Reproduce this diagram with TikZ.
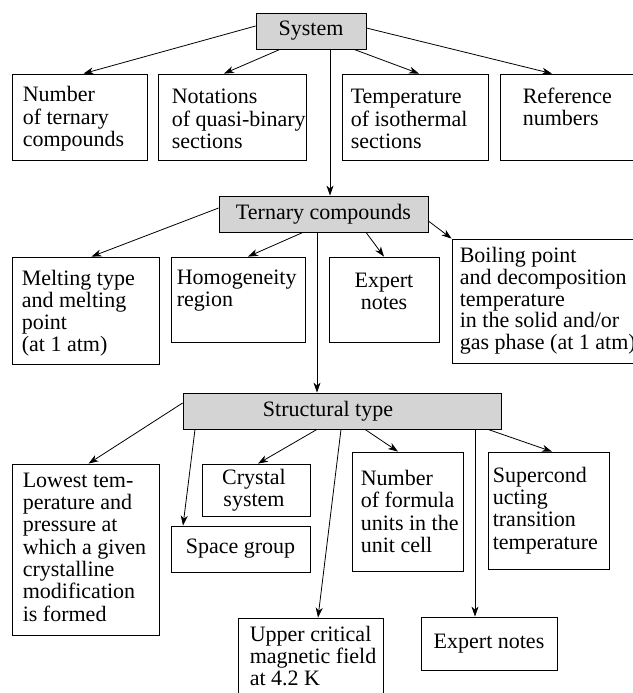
\documentclass[tikz,border=0pt]{standalone}
\usepackage{fontspec}
\setmainfont{Liberation Serif}
\usetikzlibrary{arrows.meta}
\definecolor{headgray}{RGB}{212,212,212}

\begin{document}
\begin{tikzpicture}[x=1pt, y=-1pt,
    box/.style={draw, line width=0.8pt, inner sep=0pt},
    head/.style={box, fill=headgray, minimum height=36pt},
    txt/.style={inner sep=0pt, align=left, font=\fontsize{22}{22.3}\selectfont},
    arr/.style={-{Stealth[length=10pt, width=7pt, inset=3pt]}, line width=0.8pt}
]
\useasboundingbox (0,0) rectangle (632,693);

% level 0
\node[head, minimum width=110pt] (sys) at (311,31) {};
\node[txt] (syst) at (sys) {System};

% level 1
\node[box, minimum width=135pt, minimum height=86pt] (b1) at (79.5,117) {};
\node[box, minimum width=148pt, minimum height=86pt] (b2) at (232,117) {};
\node[box, minimum width=146pt, minimum height=86pt] (b3) at (415,117) {};
\node[box, minimum width=140pt, minimum height=86pt] (b4) at (570,117) {};
\node[txt, anchor=west] (b1t) at ([shift={(11pt,-2pt)}]b1.west) {Number\\of ternary\\compounds};
\node[txt, anchor=west] (b2t) at ([shift={(14pt,-2pt)}]b2.west) {Notations\\of quasi-binary\\sections};
\node[txt, anchor=west] (b3t) at ([shift={(9pt,-2pt)}]b3.west) {Temperature\\of isothermal\\sections};
\node[txt, anchor=north west] (b4t) at ([shift={(23pt,-14pt)}]b4.north west) {Reference\\numbers};

\draw[arr] ([yshift=5pt]sys.west) -- ([xshift=4pt]b1.north);
\draw[arr] ([xshift=-31pt]sys.south) -- ([xshift=-8pt]b2.north);
\draw[arr] ([xshift=43pt]sys.south) -- ([xshift=4pt]b3.north);
\draw[arr] ([yshift=3pt]sys.east) -- ([xshift=-18pt]b4.north);

% level 0 -> ternary compounds
\node[head, minimum width=209pt] (ter) at (323.5,214) {};
\node[txt] (tert) at (ter) {Ternary compounds};
\draw[arr] ([xshift=19pt]sys.south) -- ([xshift=19pt]sys.south |- ter.north);

% level 2
\node[box, minimum width=147pt, minimum height=107pt] (melt) at (85.5,310.5) {};
\node[box, minimum width=134pt, minimum height=85pt] (homog) at (238,299.5) {};
\node[box, minimum width=110pt, minimum height=85pt] (exp1) at (384,299.5) {};
\node[box, minimum width=188pt, minimum height=124pt] (boil) at (546,301) {};
\node[txt, anchor=north west] (meltt) at ([shift={(10pt,-13pt)}]melt.north west) {Melting type\\and melting\\point\\(at 1 atm)};
\node[txt, anchor=north west] (homogt) at ([shift={(6pt,-13pt)}]homog.north west) {Homogeneity\\region};
\node[txt, align=center, anchor=north] (exp1t) at ([yshift=-16pt]exp1.north) {Expert\\notes};
\node[txt, anchor=west, font=\fontsize{22}{21.7}\selectfont] (boilt) at ([xshift=8pt]boil.west) {Boiling point\\and decomposition\\temperature\\in the solid and/or\\gas phase (at 1 atm)};

\draw[arr] ([yshift=6pt]ter.west) -- ([xshift=6pt]melt.north);
\draw[arr] ([xshift=-20.5pt]ter.south) -- ([xshift=10pt]homog.north);
\draw[arr] ([xshift=42.5pt]ter.south) -- (exp1.north);
\draw[arr] ([yshift=-7pt]ter.east) -- (boil.north west);

% ternary compounds -> structural type
\node[head, minimum width=318pt] (str) at (342,411) {};
\node[txt] (strt) at (328,411) {Structural type};
\draw[arr] ([xshift=-6.5pt]ter.south) -- ([xshift=-6.5pt]ter.south |- str.north);

% level 3
\node[box, minimum width=147pt, minimum height=171pt] (lowest) at (85.5,549.5) {};
\node[box, minimum width=108pt, minimum height=52pt] (cryst) at (256,490) {};
\node[box, minimum width=139pt, minimum height=46pt] (space) at (240.5,549) {};
\node[box, minimum width=111pt, minimum height=119pt] (num) at (407.5,511.5) {};
\node[box, minimum width=121pt, minimum height=117pt] (sup) at (548.5,510.5) {};
\node[box, minimum width=145pt, minimum height=88pt] (upper) at (310.5,662) {};
\node[box, minimum width=136pt, minimum height=53pt] (exp2) at (489,643.5) {};
\node[txt, anchor=north west] (lowestt) at ([shift={(11pt,-9pt)}]lowest.north west) {Lowest tem-\\perature and\\pressure at\\which a given\\crystalline\\modification\\is formed};
\node[txt, align=center] (crystt) at ([xshift=-2pt]cryst) {Crystal\\system};
\node[txt] (spacet) at (space) {Space group};
\node[txt, anchor=west] (numt) at ([xshift=9pt]num.west) {Number\\of formula\\units in the\\unit cell};
\node[txt, anchor=west] (supt) at ([xshift=5pt]sup.west) {Supercond\\ucting\\transition\\temperature};
\node[txt, anchor=north west] (uppert) at ([shift={(12pt,-8pt)}]upper.north west) {Upper critical\\magnetic field\\at 4.2 K};
\node[txt] (exp2t) at (exp2) {Expert notes};

\draw[arr] ([yshift=8pt]str.west) -- ([xshift=3pt]lowest.north);
\draw[arr] ([xshift=-147pt]str.south) -- ([xshift=-57.5pt]space.north);
\draw[arr] ([xshift=-25pt]str.south) -- ([xshift=2pt]cryst.north);
\draw[arr] ([xshift=-1pt]str.south) -- ([xshift=7.5pt]upper.north);
\draw[arr] ([xshift=23pt]str.south) -- ([xshift=-9.5pt]num.north);
\draw[arr] ([xshift=133pt]str.south) -- ([xshift=133pt]str.south |- exp2.north);
\draw[arr] ([xshift=146pt]str.south) -- ([xshift=3.5pt]sup.north);

\end{tikzpicture}
\end{document}
